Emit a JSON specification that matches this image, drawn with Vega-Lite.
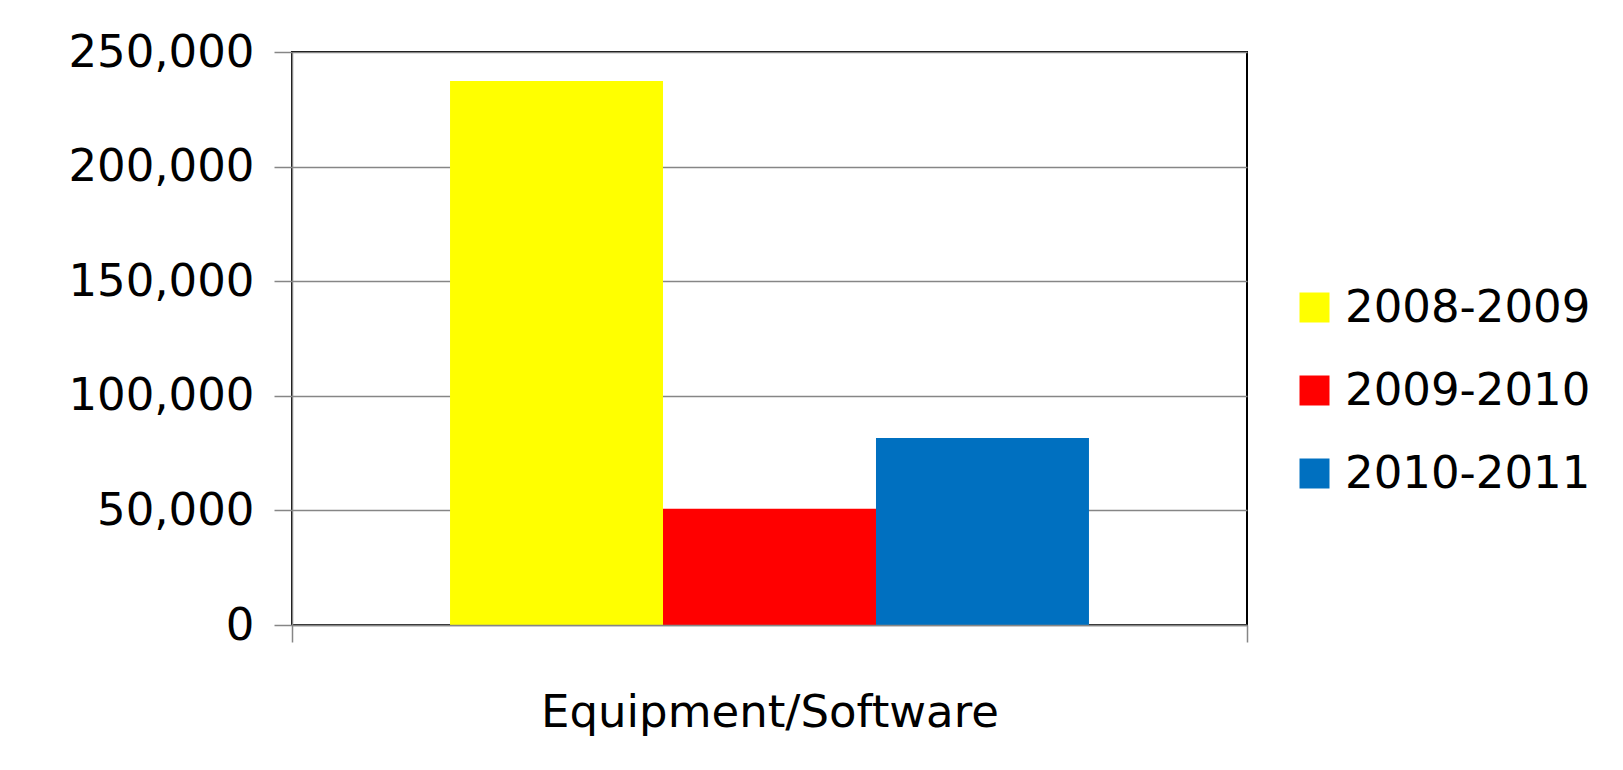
{
  "$schema": "https://vega.github.io/schema/vega-lite/v6.json",
  "autosize": "none",
  "padding": {"left": 292, "top": 52, "right": 376, "bottom": 145},
  "width": 955,
  "height": 573,
  "background": "#ffffff",
  "config": {
    "font": "Comic Sans MS, DejaVu Sans",
    "view": {"stroke": "#000000", "strokeWidth": 2}
  },
  "data": {
    "values": [
      {"category": "Equipment/Software", "year": "2008-2009", "amount": 237300},
      {"category": "Equipment/Software", "year": "2009-2010", "amount": 50700},
      {"category": "Equipment/Software", "year": "2010-2011", "amount": 81600}
    ]
  },
  "mark": {"type": "bar"},
  "encoding": {
    "x": {
      "field": "category",
      "type": "nominal",
      "scale": {"paddingInner": 0, "paddingOuter": 0},
      "axis": {
        "title": null,
        "labelAngle": 0,
        "labelFontSize": 45,
        "labelLimit": 0,
        "labelColor": "#000000",
        "labelPadding": 48,
        "labelBaseline": "top",
        "domainColor": "#868686",
        "domainWidth": 1.5,
        "tickColor": "#868686",
        "tickWidth": 1.5,
        "tickSize": 17,
        "tickBand": "extent",
        "zindex": 1
      }
    },
    "xOffset": {
      "field": "year",
      "type": "nominal",
      "scale": {"paddingInner": 0, "paddingOuter": 0.742}
    },
    "y": {
      "field": "amount",
      "type": "quantitative",
      "scale": {"domain": [0, 250000], "nice": false},
      "axis": {
        "title": null,
        "values": [0, 50000, 100000, 150000, 200000, 250000],
        "format": ",d",
        "labelFontSize": 45,
        "labelLimit": 0,
        "labelColor": "#000000",
        "labelPadding": 20,
        "domainColor": "#868686",
        "domainWidth": 1.5,
        "tickColor": "#868686",
        "tickWidth": 1.5,
        "tickSize": 18,
        "gridColor": "#868686",
        "gridWidth": 1.5
      }
    },
    "color": {
      "field": "year",
      "type": "nominal",
      "scale": {
        "domain": ["2008-2009", "2009-2010", "2010-2011"],
        "range": ["#FFFF00", "#FF0000", "#0070C0"]
      },
      "legend": {
        "title": null,
        "orient": "none",
        "legendX": 1000,
        "legendY": 233,
        "padding": 0,
        "symbolType": "square",
        "symbolSize": 900,
        "symbolStrokeWidth": 0,
        "labelFontSize": 45,
        "labelLimit": 0,
        "labelColor": "#000000",
        "labelOffset": 8,
        "rowPadding": 37
      }
    }
  }
}
